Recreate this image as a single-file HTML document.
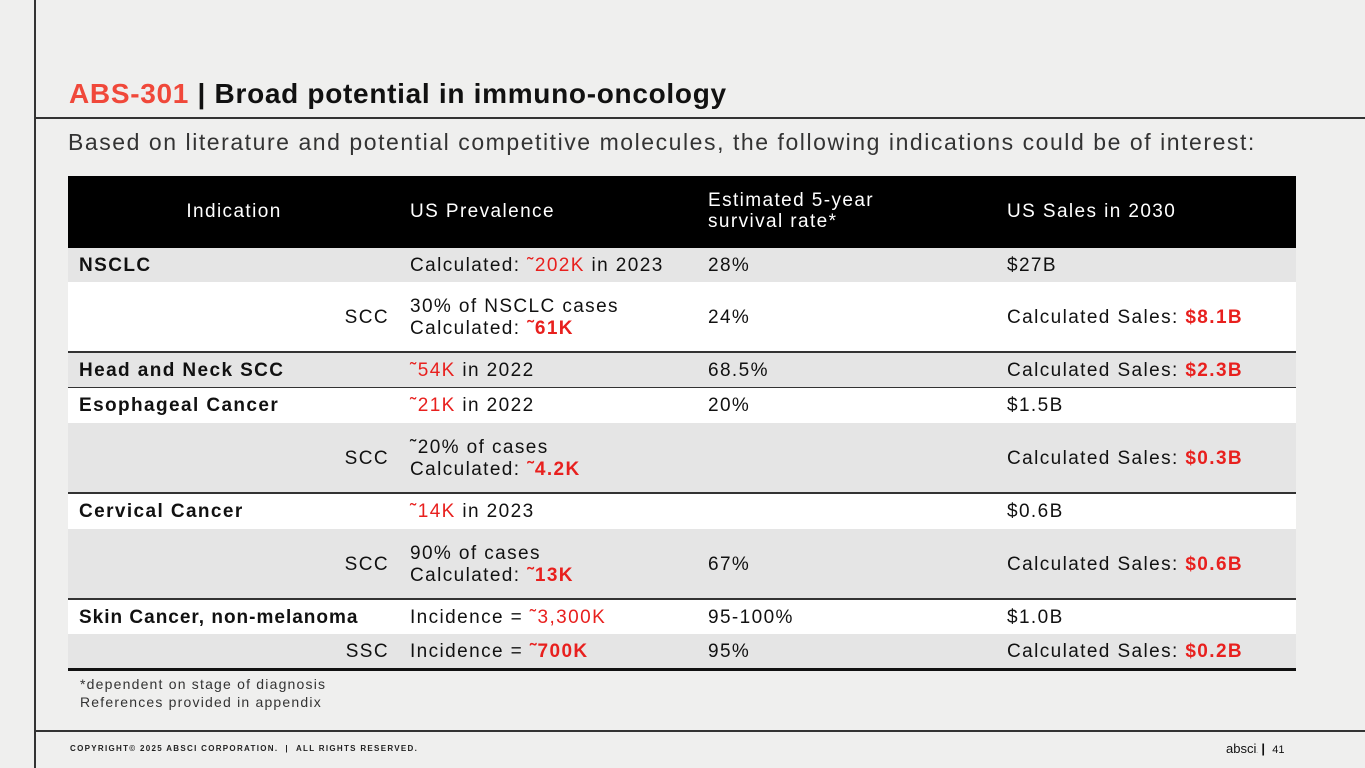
<!DOCTYPE html>
<html><head><meta charset="utf-8">
<style>
body{margin:0;width:1365px;height:768px;background:#efefee;position:relative;overflow:hidden;font-family:"Liberation Sans",sans-serif;color:#111}
.abs{position:absolute}
.red{color:#e8201e}
.row{position:absolute;left:68px;width:1228px;font-size:19px;letter-spacing:1.4px}
.c{position:absolute;white-space:nowrap;line-height:22px}
.b{font-weight:bold;}
</style></head><body>
<div class="abs" style="left:34px;top:0;width:2px;height:768px;background:#333"></div>
<div class="abs" style="left:34px;top:117px;width:1331px;height:2px;background:#333"></div>
<div class="abs" style="left:34px;top:730px;width:1331px;height:2px;background:#333"></div>
<div class="abs" style="left:69px;top:78px;font-size:28px;font-weight:bold;letter-spacing:0.7px"><span class="red" style="color:#f0483a">ABS-301</span> | Broad potential in immuno-oncology</div>
<div class="abs" style="left:68px;top:129px;font-size:23px;letter-spacing:1.55px;color:#333">Based on literature and potential competitive molecules, the following indications could be of interest:</div>

<div>
<div class="row" style="top:176px;height:72px;background:#000;color:#fff">
<div class="c" style="left:0;width:332px;text-align:center;top:25px">Indication</div>
<div class="c" style="left:342px;top:25px">US Prevalence</div>
<div class="c" style="left:640px;top:14px;line-height:21px">Estimated 5-year<br>survival rate*</div>
<div class="c" style="left:939px;top:25px">US Sales in 2030</div>
</div>
<div class="row" style="top:248px;height:34px;background:#e5e5e5">
<div class="c b" style="left:11px;top:7px">NSCLC</div><div class="c" style="left:342px;top:7px">Calculated: <span class="red">˜202K</span> in 2023</div><div class="c" style="left:640px;top:7px">28%</div><div class="c" style="left:939px;top:7px">$27B</div></div>
<div class="row" style="top:282px;height:70px;background:#fff">
<div class="c" style="left:0;width:321px;text-align:right;top:25px">SCC</div><div class="c" style="left:342px;top:14px">30% of NSCLC cases<br>Calculated: <span class="red b">˜61K</span></div><div class="c" style="left:640px;top:25px">24%</div><div class="c" style="left:939px;top:25px">Calculated Sales: <span class="red b">$8.1B</span></div></div>
<div class="row" style="top:351px;height:2px;background:#333"></div>
<div class="row" style="top:353px;height:34px;background:#e5e5e5">
<div class="c b" style="left:11px;top:7px">Head and Neck SCC</div><div class="c" style="left:342px;top:7px"><span class="red">˜54K</span> in 2022</div><div class="c" style="left:640px;top:7px">68.5%</div><div class="c" style="left:939px;top:7px">Calculated Sales: <span class="red b">$2.3B</span></div></div>
<div class="row" style="top:387px;height:1px;background:#333"></div>
<div class="row" style="top:388px;height:35px;background:#fff">
<div class="c b" style="left:11px;top:7px">Esophageal Cancer</div><div class="c" style="left:342px;top:7px"><span class="red">˜21K</span> in 2022</div><div class="c" style="left:640px;top:7px">20%</div><div class="c" style="left:939px;top:7px">$1.5B</div></div>
<div class="row" style="top:423px;height:70px;background:#e5e5e5">
<div class="c" style="left:0;width:321px;text-align:right;top:25px">SCC</div><div class="c" style="left:342px;top:14px">˜20% of cases<br>Calculated: <span class="red b">˜4.2K</span></div><div class="c" style="left:939px;top:25px">Calculated Sales: <span class="red b">$0.3B</span></div></div>
<div class="row" style="top:492px;height:2px;background:#333"></div>
<div class="row" style="top:494px;height:35px;background:#fff">
<div class="c b" style="left:11px;top:7px">Cervical Cancer</div><div class="c" style="left:342px;top:7px"><span class="red">˜14K</span> in 2023</div><div class="c" style="left:939px;top:7px">$0.6B</div></div>
<div class="row" style="top:529px;height:70px;background:#e5e5e5">
<div class="c" style="left:0;width:321px;text-align:right;top:25px">SCC</div><div class="c" style="left:342px;top:14px">90% of cases<br>Calculated: <span class="red b">˜13K</span></div><div class="c" style="left:640px;top:25px">67%</div><div class="c" style="left:939px;top:25px">Calculated Sales: <span class="red b">$0.6B</span></div></div>
<div class="row" style="top:598px;height:2px;background:#333"></div>
<div class="row" style="top:600px;height:34px;background:#fff">
<div class="c b" style="left:11px;top:7px;letter-spacing:1px">Skin Cancer, non-melanoma</div><div class="c" style="left:342px;top:7px">Incidence = <span class="red">˜3,300K</span></div><div class="c" style="left:640px;top:7px">95-100%</div><div class="c" style="left:939px;top:7px">$1.0B</div></div>
<div class="row" style="top:634px;height:34px;background:#e5e5e5">
<div class="c" style="left:0;width:321px;text-align:right;top:7px">SSC</div><div class="c" style="left:342px;top:7px">Incidence = <span class="red b">˜700K</span></div><div class="c" style="left:640px;top:7px">95%</div><div class="c" style="left:939px;top:7px">Calculated Sales: <span class="red b">$0.2B</span></div></div>
<div class="row" style="top:668px;height:3px;background:#111"></div>
</div>

<div class="abs" style="left:80px;top:675px;font-size:14px;line-height:18px;letter-spacing:1.2px;color:#333">*dependent on stage of diagnosis<br>References provided in appendix</div>
<div class="abs" style="left:70px;top:744px;font-size:8px;font-weight:bold;letter-spacing:1.3px;color:#222">COPYRIGHT© 2025 ABSCI CORPORATION. &nbsp;| &nbsp;ALL RIGHTS RESERVED.</div>
<div class="abs" style="left:1226px;top:741px;font-size:13px;color:#111">absci<span style="font-size:5px">.</span> <b>|</b> &nbsp;<span style="font-size:11px">41</span></div>
</body></html>
